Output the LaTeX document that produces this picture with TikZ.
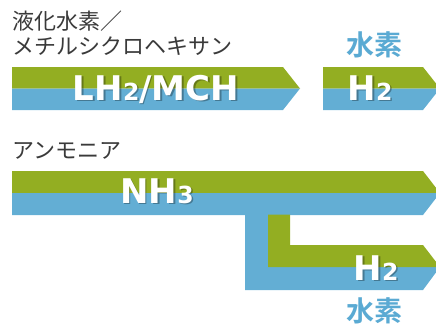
\documentclass[tikz,border=0pt]{standalone}
\usepackage{fontspec}
\newfontfamily\jpfont{Noto Sans CJK JP}
\newfontfamily\jpbold{Noto Sans CJK JP Bold}
\newfontfamily\labfont{DejaVu Sans Bold}
\definecolor{bandgreen}{HTML}{93AE22}
\definecolor{bandblue}{HTML}{63AED4}
\definecolor{h2blue}{HTML}{5AAAD3}
\definecolor{jpgray}{HTML}{3A3A3A}
\tikzset{
  greenband/.style={fill=bandgreen, draw=none},
  blueband/.style={fill=bandblue, draw=none},
  jplabel/.style={font=\jpfont\fontsize{22}{25.5}\selectfont, text=jpgray, inner sep=0pt, anchor=base west},
  hlabel/.style={font=\jpbold\fontsize{28}{28}\selectfont, text=h2blue, inner sep=0pt},
  chem/.style={font=\labfont\fontsize{34}{34}\selectfont, text=white, inner sep=0pt, anchor=base},
  chemshadow/.style={font=\labfont\fontsize{34}{34}\selectfont, text=black, opacity=0.3, inner sep=0pt, anchor=base},
}
\newcommand{\sm}[1]{{\fontsize{23.5}{23.5}\selectfont #1}}
\begin{document}
\begin{tikzpicture}[x=1pt,y=-1pt]
\useasboundingbox (0,0) rectangle (436,327);
\clip (0,0) rectangle (436,327);
% arrow 1
\fill[greenband] (12,67) -- (283,67) -- (300,88.5) -- (12,88.5) -- cycle;
\fill[blueband] (12,88.5) -- (300,88.5) -- (283,110) -- (12,110) -- cycle;
% arrow 2
\fill[greenband] (323,67) -- (423,67) -- (440,88.5) -- (323,88.5) -- cycle;
\fill[blueband] (323,88.5) -- (440,88.5) -- (423,110) -- (323,110) -- cycle;
% NH3 arrow
\fill[greenband] (12,171) -- (423,171) -- (440,193) -- (12,193) -- cycle;
\fill[blueband] (12,193) -- (440,193) -- (423,215) -- (12,215) -- cycle;
% branch
\fill[blueband] (245,214.5) -- (268,214.5) -- (268,267) -- (440,267) -- (423,290) -- (245,290) -- cycle;
\fill[greenband] (268,214.5) -- (290,214.5) -- (290,245) -- (423,245) -- (440,267) -- (268,267) -- cycle;
% labels
\node[jplabel] (lh2lab) at (12,29) {液化水素／};
\node[jplabel] (mchlab) at (12,54.5) {メチルシクロヘキサン};
\node[jplabel] (nh3lab) at (12,158.5) {アンモニア};
\node[hlabel] (h2top) at (374,45) {水素};
\node[hlabel] (h2bot) at (374,311) {水素};
% chem formulas
\node[chemshadow] (lh2s) at (157.5,101.5) {LH\sm{2}/MCH};
\node[chem] (lh2) at (156,100) {LH\sm{2}/MCH};
\node[chemshadow] (h2as) at (371.5,101.5) {H\sm{2}};
\node[chem] (h2a) at (370,100) {H\sm{2}};
\node[chemshadow] (nh3s) at (158.5,204.5) {NH\sm{3}};
\node[chem] (nh3) at (157,203) {NH\sm{3}};
\node[chemshadow] (h2bs) at (377.5,281.5) {H\sm{2}};
\node[chem] (h2b) at (376,280) {H\sm{2}};
\end{tikzpicture}
\end{document}
